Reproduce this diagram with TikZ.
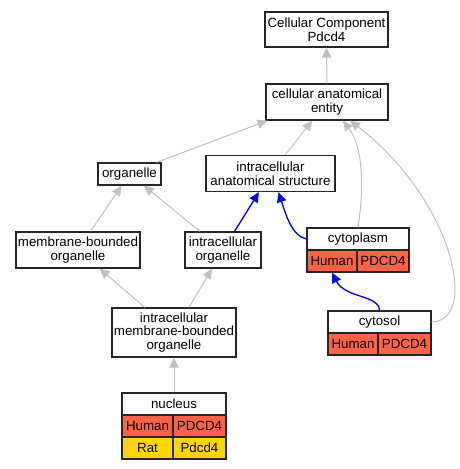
\documentclass[tikz,border=0pt]{standalone}
\usepackage{fontspec}
\setmainfont{Liberation Sans}
\usetikzlibrary{arrows.meta,calc}
\definecolor{edgegray}{RGB}{192,192,192}
\definecolor{human}{RGB}{255,99,71}
\definecolor{rat}{RGB}{255,215,0}
\tikzset{
  term/.style={draw=black!85, line width=1pt, fill=white, align=center, inner sep=1pt,
    font=\fontsize{10}{10.2}\selectfont},
  cell/.style={term, minimum height=16.5pt},
  isa/.style={draw=edgegray, line width=0.75pt, -{Triangle[length=7.5pt,width=7pt]}},
  partof/.style={draw=blue, line width=1pt, -{Triangle[length=7.5pt,width=7pt]}},
}
\begin{document}
\begin{tikzpicture}[x=0.75pt,y=-0.75pt]
\useasboundingbox (0,0) rectangle (460,469);
% terms
\node[term, minimum width=92.25pt, minimum height=26.25pt] (ccomp) at (326.5,29.5) {Cellular Component\\Pdcd4};
\node[term, minimum width=91.5pt, minimum height=27pt] (entity) at (327,102) {cellular anatomical\\entity};
\node[term, minimum width=47.25pt, minimum height=16.5pt] (organelle) at (129.5,174) {organelle};
\node[term, minimum width=96.75pt, minimum height=27pt] (ias) at (270.5,173.5) {intracellular\\anatomical structure};
\node[term, minimum width=93pt, minimum height=27pt] (mbo) at (78,250) {membrane-bounded\\organelle};
\node[term, minimum width=57pt, minimum height=27pt] (io) at (223,250) {intracellular\\organelle};
\node[term, minimum width=93pt, minimum height=36.75pt] (imbo) at (174,332.5) {intracellular\\membrane-bounded\\organelle};
% annotated terms
\node[cell, minimum width=76.5pt] (cytoplasm) at (358,239) {cytoplasm};
\node[cell, fill=human, minimum width=37.5pt] (cytoplasm-human) at (332,261) {Human};
\node[cell, fill=human, minimum width=39pt] (cytoplasm-gene) at (383,261) {PDCD4};
\node[cell, minimum width=77.25pt] (cytosol) at (379.5,322) {cytosol};
\node[cell, fill=human, minimum width=37.5pt] (cytosol-human) at (353,344) {Human};
\node[cell, fill=human, minimum width=39.75pt] (cytosol-gene) at (404.5,344) {PDCD4};
\node[cell, minimum width=78pt] (nucleus) at (174,404) {nucleus};
\node[cell, fill=human, minimum width=38.25pt] (nucleus-human) at (147.5,426) {Human};
\node[cell, fill=human, minimum width=39.75pt] (nucleus-gene) at (199.5,426) {PDCD4};
\node[cell, fill=rat, minimum width=38.25pt] (nucleus-rat) at (147.5,448) {Rat};
\node[cell, fill=rat, minimum width=39.75pt] (nucleus-ratgene) at (199.5,448) {Pdcd4};
% is_a
\draw[isa] (entity) -- (ccomp);
\draw[isa] ($(organelle.north east)+(-5,0)$) -- ($(entity.south west)+(2,0)$);
\draw[isa] (ias) -- (entity);
\draw[isa] (cytoplasm.north) .. controls (363,195) and (365,150) .. ($(entity.south)+(16,0)$);
\draw[isa] (cytosol.east) .. controls (450,321) and (455,305) .. (455,290)
  .. controls (455,240) and (415,170) .. ($(entity.south)+(23,0)$);
\draw[isa] (mbo) -- (organelle);
\draw[isa] (io) -- (organelle);
\draw[isa] (imbo) -- (mbo);
\draw[isa] (imbo) -- (io);
\draw[isa] (nucleus) -- (imbo);
% part_of
\draw[partof] (io) -- (ias);
\draw[partof] (cytoplasm.west) .. controls (292,236) and (286,215) .. ($(ias.south)+(8,0)$);
\draw[partof] (cytosol.north) .. controls (379,295) and (345,298) .. (cytoplasm-human.south);
\end{tikzpicture}
\end{document}
